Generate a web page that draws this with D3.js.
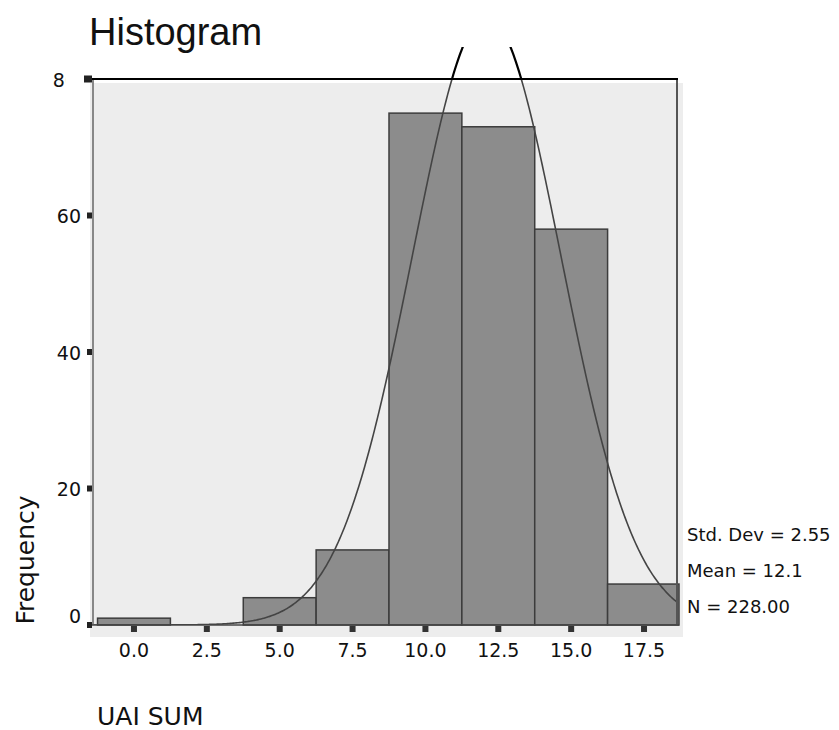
<!DOCTYPE html>
<meta charset="utf-8">
<style>

body {
  margin: 0;
  background: #fff;
}

text {
  font-family: "DejaVu Sans", sans-serif;
  fill: #111;
}

.title {
  font-family: "Liberation Sans", Arial, sans-serif;
  font-size: 38px;
}

.tick-label {
  font-size: 19px;
}

.axis-title {
  font-size: 25px;
}

.stat {
  font-size: 18px;
}

.bar {
  fill: #8c8c8c;
  stroke: #3c3c3c;
  stroke-width: 1.5px;
}

</style>
<svg width="839" height="730"></svg>
<script src="https://cdn.jsdelivr.net/npm/d3@7"></script>
<script>

// bins of UAI SUM (centre of each bin) and their counts
var binCentres = [0.0, 2.5, 5.0, 7.5, 10.0, 12.5, 15.0, 17.5];
var counts = [1, 0, 4, 11, 75, 73, 58, 6];
var binWidth = 2.5;

var xTicks = [0.0, 2.5, 5.0, 7.5, 10.0, 12.5, 15.0, 17.5];
var yTicks = [0, 20, 40, 60, 80];

var stats = ["Std. Dev = 2.55", "Mean = 12.1", "N = 228.00"];
var sd = 2.55, mean = 12.1, n = 228;

var svg = d3.select("svg");

var x = d3.scaleLinear()
    .domain([-1.44, 18.70])
    .range([92, 679]);

var y = d3.scaleLinear()
    .domain([0, 80])
    .range([625, 79]);

var defs = svg.append("defs");

defs.append("clipPath")
    .attr("id", "inner")
  .append("rect")
    .attr("x", x.range()[0])
    .attr("y", y(80))
    .attr("width", x.range()[1] - x.range()[0])
    .attr("height", y(0) - y(80));

defs.append("clipPath")
    .attr("id", "outer")
  .append("rect")
    .attr("x", x.range()[0])
    .attr("y", 47)
    .attr("width", x.range()[1] - x.range()[0])
    .attr("height", y(80) - 47);

// the top label is cut off in the original (only the "8" of 80 shows)
var labelClip = defs.append("clipPath")
    .attr("id", "labels");

labelClip.append("rect")
    .attr("x", 0).attr("y", 0)
    .attr("width", 66).attr("height", 100);

labelClip.append("rect")
    .attr("x", 0).attr("y", 100)
    .attr("width", 100).attr("height", 630);

// plot background
svg.append("rect")
    .attr("x", 90)
    .attr("y", 83)
    .attr("width", 593)
    .attr("height", 554)
    .attr("fill", "#ededed");

// bars
svg.append("g")
  .selectAll("rect")
    .data(binCentres)
  .enter().append("rect")
    .attr("class", "bar")
    .attr("x", function(d) { return x(Math.max(d - binWidth / 2, x.domain()[0])); })
    .attr("width", function(d) { return x(Math.min(d + binWidth / 2, x.domain()[1])) - x(Math.max(d - binWidth / 2, x.domain()[0])); })
    .attr("y", function(d, i) { return y(counts[i]); })
    .attr("height", function(d, i) { return y(0) - y(counts[i]); });

// fitted normal curve
var curve = d3.range(x.domain()[0], x.domain()[1] + 0.01, 0.05).map(function(v) {
  var z = (v - mean) / sd;
  return [v, n * binWidth * Math.exp(-z * z / 2) / (sd * Math.sqrt(2 * Math.PI))];
});

var line = d3.line()
    .x(function(d) { return x(d[0]); })
    .y(function(d) { return y(d[1]); })
    .curve(d3.curveBasis);

svg.append("path")
    .datum(curve)
    .attr("clip-path", "url(#inner)")
    .attr("fill", "none")
    .attr("stroke", "#444")
    .attr("stroke-width", 1.6)
    .attr("d", line);

svg.append("path")
    .datum(curve)
    .attr("clip-path", "url(#outer)")
    .attr("fill", "none")
    .attr("stroke", "#000")
    .attr("stroke-width", 2.2)
    .attr("d", line);

// frame
svg.append("line")
    .attr("x1", 93).attr("x2", 93)
    .attr("y1", y(80)).attr("y2", y(0))
    .attr("stroke", "#888")
    .attr("stroke-width", 2);

svg.append("line")
    .attr("x1", x.range()[1] - 2).attr("x2", x.range()[1] - 2)
    .attr("y1", y(80)).attr("y2", y(0))
    .attr("stroke", "#555")
    .attr("stroke-width", 2);

svg.append("line")
    .attr("x1", 88).attr("x2", x.range()[1] - 1)
    .attr("y1", y(80)).attr("y2", y(80))
    .attr("stroke", "#000")
    .attr("stroke-width", 2.2);

svg.append("line")
    .attr("x1", 92).attr("x2", x.range()[1])
    .attr("y1", y(0)).attr("y2", y(0))
    .attr("stroke", "#444")
    .attr("stroke-width", 1.5);

// x ticks and labels
var xAxis = svg.append("g");

xAxis.selectAll("rect")
    .data(xTicks)
  .enter().append("rect")
    .attr("x", function(d) { return x(d) - 3; })
    .attr("y", y(0) + 1)
    .attr("width", 6)
    .attr("height", 6)
    .attr("fill", "#333");

xAxis.selectAll("text")
    .data(xTicks)
  .enter().append("text")
    .attr("class", "tick-label")
    .attr("x", function(d) { return x(d); })
    .attr("y", 657)
    .attr("text-anchor", "middle")
    .text(d3.format(".1f"));

// y ticks and labels
var yAxis = svg.append("g");

yAxis.selectAll("rect")
    .data(yTicks)
  .enter().append("rect")
    .attr("x", function(d) { return d === 80 ? 84 : 87; })
    .attr("y", function(d) { return y(d) - (d === 80 ? 3.5 : 3); })
    .attr("width", function(d) { return d === 80 ? 8 : 5; })
    .attr("height", function(d) { return d === 80 ? 7 : 6; })
    .attr("fill", "#222");

yAxis.append("g")
    .attr("clip-path", "url(#labels)")
  .selectAll("text")
    .data(yTicks)
  .enter().append("text")
    .attr("class", "tick-label")
    .attr("x", function(d) { return d === 80 ? 77 : 81; })
    .attr("y", function(d) { return y(d); })
    .attr("dy", function(d) { return d === 0 ? "-0.1em" : "0.4em"; })
    .attr("text-anchor", "end")
    .text(function(d) { return d; });

// titles
svg.append("text")
    .attr("class", "title")
    .attr("x", 89)
    .attr("y", 45)
    .text("Histogram");

svg.append("text")
    .attr("class", "axis-title")
    .attr("transform", "translate(34,560) rotate(-90)")
    .attr("text-anchor", "middle")
    .text("Frequency");

svg.append("text")
    .attr("class", "axis-title")
    .attr("x", 97)
    .attr("y", 725)
    .text("UAI SUM");

// statistics
svg.append("g")
  .selectAll("text")
    .data(stats)
  .enter().append("text")
    .attr("class", "stat")
    .attr("x", 687)
    .attr("y", function(d, i) { return 541 + i * 36; })
    .text(function(d) { return d; });

</script>
